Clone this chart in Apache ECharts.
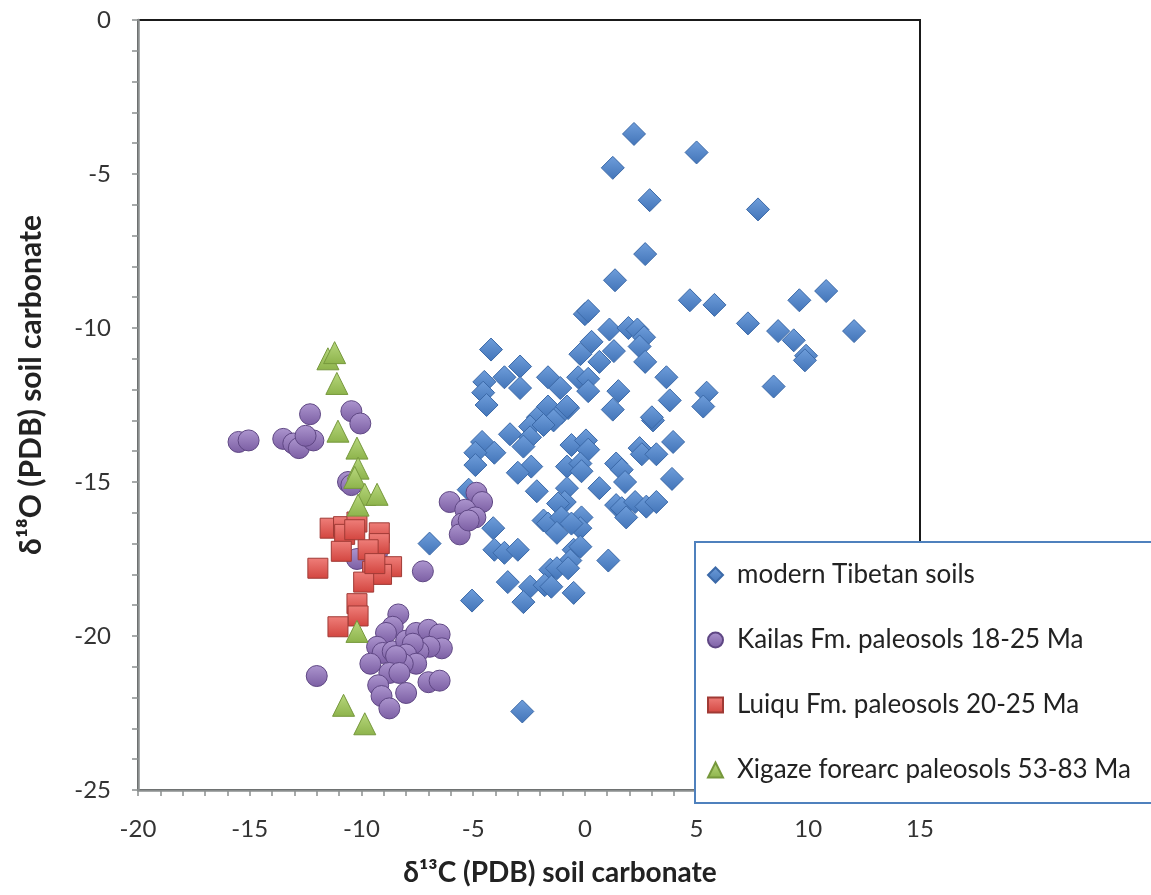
<!DOCTYPE html>
<html>
<head>
<meta charset="utf-8">
<script src="https://cdn.jsdelivr.net/npm/echarts@6/dist/echarts.min.js"></script>
<style>
  html, body { margin: 0; padding: 0; background: #fff; }
  #chart { width: 1151px; height: 895px; }
</style>
</head>
<body>
<div id="chart"></div>
<script>
// δ13C vs δ18O of soil carbonates, [δ13C, δ18O] pairs (‰ PDB)
const seriesNames = [
  'modern Tibetan soils',
  'Kailas Fm. paleosols 18-25 Ma',
  'Luiqu Fm. paleosols 20-25 Ma',
  'Xigaze forearc paleosols 53-83 Ma'
];

const modernTibetan = [
  [2.2,-3.7],[5.0,-4.3],[1.25,-4.8],[2.9,-5.85],[7.75,-6.15],[2.7,-7.6],[1.35,-8.45],
  [4.7,-9.1],[5.8,-9.25],[9.6,-9.1],[10.8,-8.8],[0.0,-9.55],[0.15,-9.45],[1.1,-10.05],
  [1.95,-10.0],[2.35,-10.05],[2.65,-10.3],[2.45,-10.6],[7.3,-9.85],[8.65,-10.1],[9.35,-10.4],
  [9.9,-10.9],[9.85,-11.05],[12.05,-10.1],[0.3,-10.45],[1.3,-10.75],[-0.2,-10.85],[0.65,-11.1],
  [2.7,-11.1],[-4.2,-10.7],[8.45,-11.9],[5.45,-12.1],[5.3,-12.55],
  [-2.9,-11.25],[-4.5,-11.75],[-3.6,-11.6],[-2.9,-11.95],[-1.65,-11.6],[-1.1,-11.95],[-0.3,-11.6],
  [0.15,-11.65],[0.15,-12.05],[1.5,-12.05],[3.65,-11.6],[3.8,-12.35],[-4.55,-12.1],[-4.4,-12.5],
  [-0.75,-12.6],[1.25,-12.65],[3.05,-13.0],[3.0,-12.9],[-2.1,-12.9],[-1.65,-12.55],[-1.05,-12.75],
  [-0.8,-12.55],[-1.4,-13.0],[-2.45,-13.2],[-1.85,-13.15],[-3.35,-13.45],[-2.45,-13.55],[-2.75,-13.85],
  [-4.6,-13.7],[-4.05,-14.05],[-4.9,-14.05],[-4.9,-14.45],[-2.4,-14.5],[-3.0,-14.7],[-0.6,-13.8],
  [0.05,-13.65],[0.15,-13.95],[-0.8,-14.5],[-0.2,-14.4],[-0.15,-14.65],[1.4,-14.4],[1.65,-14.6],
  [1.8,-15.0],[2.45,-13.9],[2.55,-14.1],[3.2,-14.1],[3.95,-13.7],[3.9,-14.9],
  [-2.15,-15.3],[-0.8,-15.2],[0.65,-15.2],[-0.9,-15.65],[-1.2,-15.7],[-4.1,-16.5],[-1.85,-16.25],
  [-1.65,-16.35],[-1.05,-16.15],[-0.15,-16.15],[-0.2,-16.5],[-1.25,-16.65],[-0.6,-16.35],[1.4,-15.75],
  [1.65,-15.85],[2.25,-15.65],[2.75,-15.8],[3.2,-15.65],[1.85,-16.15],[-5.2,-15.25],[-4.05,-17.2],
  [-3.6,-17.3],[-3.0,-17.2],[-0.5,-17.2],[-0.2,-17.1],[-0.65,-17.55],[1.05,-17.55],[-1.55,-17.85],
  [-1.25,-17.8],[-0.75,-17.8],[-3.45,-18.25],[-2.45,-18.4],[-1.8,-18.35],[-1.5,-18.4],[-0.5,-18.6],
  [-2.75,-18.9],[-5.05,-18.85],[-6.95,-17.0],[-2.8,-22.45]
];

const kailas = [
  [-12.3,-12.8],[-10.45,-12.7],[-10.05,-13.1],[-15.5,-13.7],[-15.05,-13.65],[-13.5,-13.6],
  [-13.05,-13.75],[-12.8,-13.9],[-12.15,-13.65],[-12.5,-13.5],[-10.6,-15.0],[-10.45,-15.1],
  [-10.2,-17.5],[-9.3,-17.3],[-12.0,-21.3],[-7.25,-17.9],
  [-6.05,-15.65],[-4.85,-15.35],[-4.6,-15.65],[-5.35,-15.9],[-4.9,-16.15],[-5.5,-16.35],
  [-5.6,-16.7],[-5.2,-16.25],
  [-8.35,-19.3],[-8.6,-19.7],[-8.9,-19.9],[-9.3,-20.35],[-9.05,-20.55],[-9.6,-20.9],[-8.6,-20.5],
  [-8.0,-20.15],[-7.55,-19.9],[-7.0,-19.8],[-6.5,-19.95],[-6.4,-20.4],[-6.95,-20.35],[-7.45,-20.5],
  [-7.7,-20.25],[-8.0,-20.6],[-7.55,-20.9],[-8.15,-20.9],[-8.45,-20.65],[-8.75,-21.2],[-8.3,-21.2],
  [-9.25,-21.6],[-9.1,-21.95],[-8.0,-21.85],[-8.75,-22.35],[-7.0,-21.5],[-6.5,-21.45]
];

const luiqu = [
  [-11.4,-16.5],[-10.8,-16.45],[-10.2,-16.3],[-10.75,-16.7],[-10.3,-16.55],[-9.2,-16.65],
  [-9.2,-17.0],[-10.9,-17.25],[-9.7,-17.2],[-11.95,-17.8],[-8.65,-17.75],[-9.5,-17.9],
  [-9.1,-18.0],[-9.9,-18.25],[-9.4,-17.65],[-10.2,-18.95],[-10.15,-19.35],[-11.05,-19.7]
];

const xigaze = [
  [-11.5,-11.0],[-11.2,-10.8],[-11.1,-11.8],[-11.05,-13.35],[-10.2,-13.9],[-10.15,-14.55],
  [-10.3,-14.85],[-9.85,-15.4],[-9.3,-15.4],[-10.15,-15.75],[-10.2,-19.85],[-10.8,-22.25],
  [-9.85,-22.85]
];

const xRange = [-20, 15];
const yRange = [-25, 0];

const FONT = 'Lato, "Open Sans", sans-serif';
const grad = (top, bottom) => new echarts.graphic.LinearGradient(0, 0, 0, 1, [
  { offset: 0, color: top }, { offset: 1, color: bottom }
]);

const chart = echarts.init(document.getElementById('chart'), null, { renderer: 'canvas' });

const tickLabel = v => (v % 5 === 0 ? String(v) : '');

chart.setOption({
  animation: false,
  backgroundColor: '#ffffff',
  grid: {
    left: 138, right: 231, top: 20, bottom: 105,
    show: true, borderColor: '#1a1a1a', borderWidth: 2, backgroundColor: 'transparent'
  },
  xAxis: {
    type: 'value', min: xRange[0], max: xRange[1], interval: 1,
    axisLine: { show: true, onZero: false, lineStyle: { color: '#8a8e8e', width: 2.5 } },
    axisTick: { show: true, length: 6, lineStyle: { color: '#8a8e8e', width: 1.5 } },
    splitLine: { show: false },
    axisLabel: { formatter: tickLabel, margin: 27, fontSize: 24, color: '#333', fontFamily: FONT }
  },
  yAxis: {
    type: 'value', min: yRange[0], max: yRange[1], interval: 1,
    axisLine: { show: true, onZero: false, lineStyle: { color: '#8a8e8e', width: 2.5 } },
    axisTick: { show: true, length: 6, lineStyle: { color: '#8a8e8e', width: 1.5 } },
    splitLine: { show: false },
    axisLabel: { formatter: tickLabel, margin: 27, fontSize: 24, color: '#333', fontFamily: FONT }
  },
  legend: {
    orient: 'vertical', left: 695, top: 542,
    padding: [20, 130, 20, 12], itemGap: 39, itemWidth: 15, itemHeight: 15,
    backgroundColor: '#ffffff', borderColor: '#4f81bd', borderWidth: 2, borderRadius: 0,
    textStyle: { fontSize: 26, color: '#222', fontFamily: FONT, padding: [0, 0, 0, 9] },
    data: seriesNames
  },
  graphic: [
    {
      type: 'text', x: 560, y: 873,
      style: {
        text: 'δ¹³C (PDB) soil carbonate', fill: '#222',
        font: 'bold 28px ' + FONT, textAlign: 'center', textVerticalAlign: 'middle'
      }
    },
    {
      type: 'text', x: 31, y: 385, rotation: Math.PI / 2,
      style: {
        text: 'δ¹⁸O (PDB) soil carbonate', fill: '#222',
        font: 'bold 30px ' + FONT, textAlign: 'center', textVerticalAlign: 'middle'
      }
    }
  ],
  series: [
    {
      name: seriesNames[0], type: 'scatter', data: modernTibetan,
      symbol: 'diamond', symbolSize: 23,
      itemStyle: { color: grad('#6f9edb', '#4274b8'), borderColor: '#3b69a8', borderWidth: 1, opacity: 1 }
    },
    {
      name: seriesNames[1], type: 'scatter', data: kailas,
      symbol: 'circle', symbolSize: 21,
      itemStyle: { color: grad('#ad96cf', '#7b5ea3'), borderColor: '#5f4784', borderWidth: 1, opacity: 1 }
    },
    {
      name: seriesNames[2], type: 'scatter', data: luiqu,
      symbol: 'rect', symbolSize: 20,
      itemStyle: { color: grad('#ef7f7a', '#d2453f'), borderColor: '#a03a35', borderWidth: 1, opacity: 1 }
    },
    {
      name: seriesNames[3], type: 'scatter', data: xigaze,
      symbol: 'triangle', symbolSize: 22,
      itemStyle: { color: grad('#b8d87e', '#8db34b'), borderColor: '#76983c', borderWidth: 1, opacity: 1 }
    }
  ]
});
</script>
</body>
</html>
